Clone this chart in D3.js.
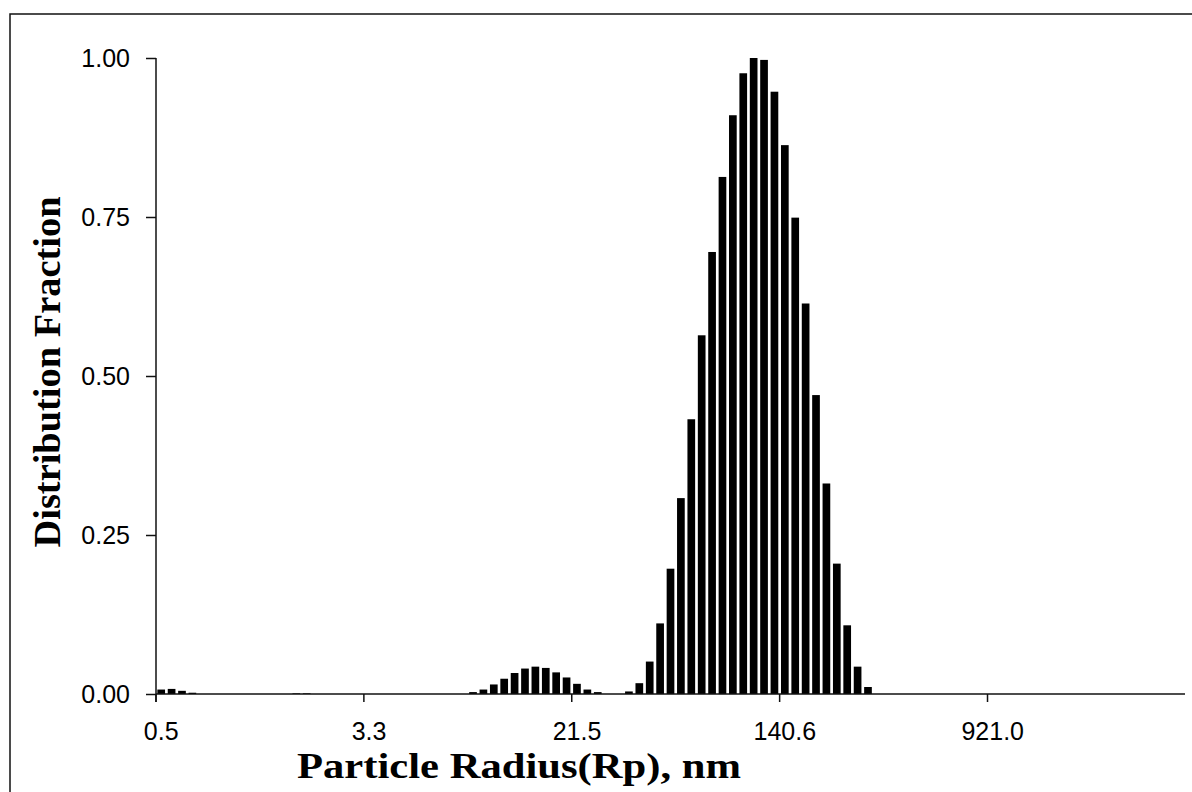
<!DOCTYPE html>
<html>
<head>
<meta charset="utf-8">
<script src="https://cdn.jsdelivr.net/npm/d3@7"></script>
<style>
  html, body { margin: 0; padding: 0; background: #fff; }
  svg { display: block; }
</style>
</head>
<body>
<svg id="chart" width="1192" height="792"></svg>
<script>
// Particle radius bins (nm), log-spaced categories
const radii = [
  0.5,0.5,0.6,0.7,0.7,0.8,0.9,1.0,1.1,1.2,1.3,1.4,1.5,1.7,1.9,2.0,2.2,2.5,2.7,3.0,
  3.3,3.6,4.0,4.3,4.8,5.2,5.8,6.3,6.9,7.6,8.4,9.2,10.1,11.1,12.2,13.4,14.7,16.2,17.8,19.5,
  21.5,23.6,25.9,28.4,31.2,34.3,37.7,41.4,45.5,50.0,54.9,60.3,66.3,72.8,80.0,87.8,96.5,106.0,116.4,127.9,
  140.6,154.4,169.7,186.4,204.7,224.9,247.1,271.4,298.1,327.5,359.8,395.2,434.1,476.9,523.9,575.5,632.2,694.4,762.8,838.0,
  921.0,1011.7,1111.4,1220.9,1341.1,1473.2,1618.3,1777.7,1952.8,2145.1,2356.4,2588.5,2843.5,3123.5,3431.2,3769.2,4140.4,4548.2,4996.2
];
// Distribution fraction per bin
const fraction = [
  0.007,0.008,0.005,0.002,0,0,0,0,0,0,0,0,0,0.001,0.001,0,0,0,0,0,
  0,0,0,0,0,0,0,0,0,0,0.003,0.007,0.015,0.024,0.033,0.040,0.043,0.041,0.034,0.026,
  0.016,0.007,0.003,0,0,0.004,0.017,0.051,0.111,0.197,0.308,0.432,0.564,0.695,0.813,0.910,0.976,1.000,0.997,0.947,
  0.863,0.749,0.614,0.470,0.331,0.205,0.108,0.043,0.011,0,0,0,0,0,0,0,0,0,0,0,
  0,0,0,0,0,0,0,0,0,0,0,0,0,0,0,0,0,0,0
];
// Labelled bins on the x axis (every 20th bin)
const xTickIdx = [0, 20, 40, 60, 80];
const yTicks = [0, 0.25, 0.5, 0.75, 1.0];
const xTitle = "Particle Radius(Rp), nm";
const yTitle = "Distribution Fraction";

const svg = d3.select("#chart");
const pLeft = 156, pRight = 1185, pTop = 58, pBottom = 694;

// outer frame (extends past the page on right/bottom as in the scan)
svg.append("rect")
  .attr("x", 10).attr("y", 14).attr("width", 1200).attr("height", 800)
  .attr("fill", "none").attr("stroke", "#111").attr("stroke-width", 1.5);

const idx = radii.map((r, i) => i);
const pad = 0.26;
const x = d3.scaleBand().domain(idx).range([pLeft, pRight])
  .paddingInner(pad).paddingOuter(pad / 2);
const y = d3.scaleLinear().domain([0, 1]).range([pBottom, pTop]);

// bars
svg.append("g").selectAll("rect")
  .data(fraction)
  .join("rect")
  .attr("x", (d, i) => x(i))
  .attr("width", x.bandwidth())
  .attr("y", d => y(d))
  .attr("height", d => pBottom - y(d))
  .attr("fill", "#000");

// y axis
const yAxis = d3.axisLeft(y).tickValues(yTicks).tickFormat(d3.format(".2f"))
  .tickSize(10).tickPadding(16);
const gy = svg.append("g").attr("transform", `translate(${pLeft},0)`).call(yAxis);
gy.select(".domain").attr("stroke", "#111").attr("stroke-width", 1.5)
  .attr("d", `M0,${pTop}V${pBottom + 8}`);
gy.selectAll(".tick line").attr("stroke", "#111").attr("stroke-width", 1.5);
gy.selectAll(".tick text")
  .attr("font-family", "'Liberation Sans', Arial, sans-serif")
  .attr("font-size", 25).attr("fill", "#000");

// x axis: labels centered on bins, tick marks at bin boundaries
const xAxis = d3.axisBottom(x).tickValues(xTickIdx)
  .tickFormat(i => d3.format(".1f")(radii[i]))
  .tickSize(0).tickPadding(28);
const gx = svg.append("g").attr("transform", `translate(0,${pBottom})`).call(xAxis);
gx.select(".domain").attr("stroke", "#111").attr("stroke-width", 1.5)
  .attr("d", `M${pLeft},0H${pRight}`);
gx.selectAll(".tick text")
  .attr("font-family", "'Liberation Sans', Arial, sans-serif")
  .attr("font-size", 25).attr("fill", "#000");
const step = x.step();
gx.append("g").selectAll("line")
  .data(xTickIdx)
  .join("line")
  .attr("x1", i => x(i) - step * pad / 2)
  .attr("x2", i => x(i) - step * pad / 2)
  .attr("y1", 0).attr("y2", 8)
  .attr("stroke", "#111").attr("stroke-width", 1.5);

// titles
svg.append("text")
  .attr("x", 519).attr("y", 778)
  .attr("text-anchor", "middle")
  .attr("font-family", "'Liberation Serif', 'Times New Roman', serif")
  .attr("font-weight", "bold").attr("font-size", 35)
  .attr("textLength", 444).attr("lengthAdjust", "spacingAndGlyphs")
  .text(xTitle);
svg.append("text")
  .attr("transform", "translate(60,372) rotate(-90)")
  .attr("text-anchor", "middle")
  .attr("font-family", "'Liberation Serif', 'Times New Roman', serif")
  .attr("font-weight", "bold").attr("font-size", 37)
  .attr("textLength", 351).attr("lengthAdjust", "spacingAndGlyphs")
  .text(yTitle);
</script>
</body>
</html>
